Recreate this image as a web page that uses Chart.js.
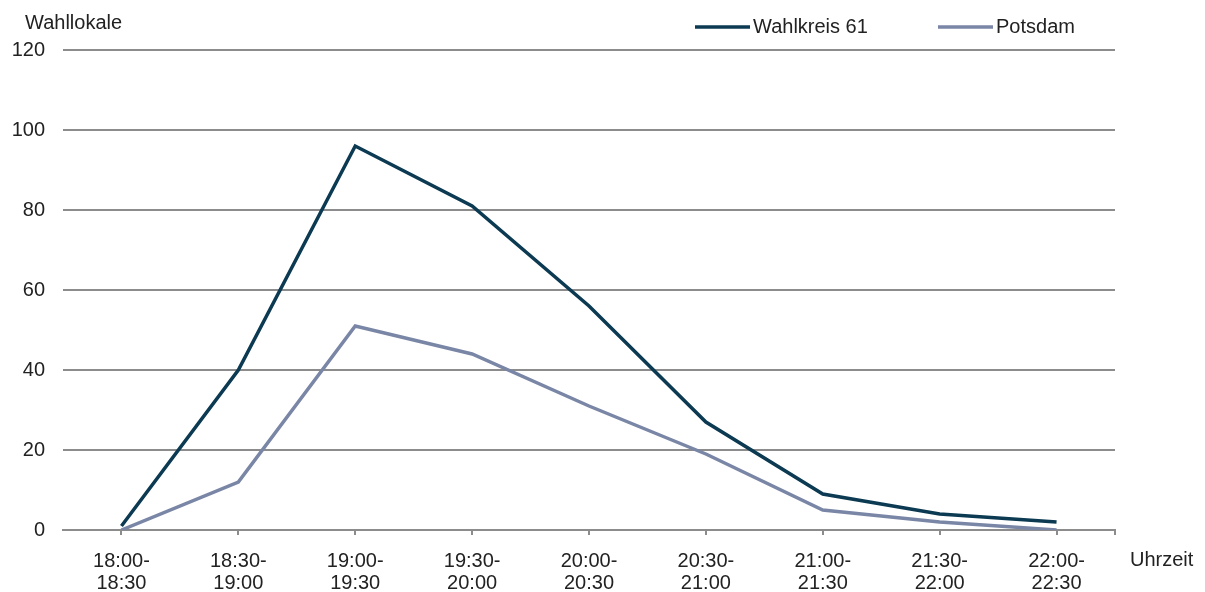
<!DOCTYPE html>
<html>
<head>
<meta charset="utf-8">
<script src="https://cdn.jsdelivr.net/npm/chart.js@4/dist/chart.umd.min.js"></script>
<style>
  html, body { margin: 0; padding: 0; background: #fff; }
  #wrap { width: 1205px; height: 592px; }
</style>
</head>
<body>
<div id="wrap"><canvas id="wahlChart" width="1205" height="592"></canvas></div>
<script>
// Zeitfenster (halbe Stunden) und gemeldete Wahllokale
const zeitraeume = [
  ['18:00-', '18:30'], ['18:30-', '19:00'], ['19:00-', '19:30'],
  ['19:30-', '20:00'], ['20:00-', '20:30'], ['20:30-', '21:00'],
  ['21:00-', '21:30'], ['21:30-', '22:00'], ['22:00-', '22:30']
];
const wahlkreis61 = [1, 40, 96, 81, 56, 27, 9, 4, 2];
const potsdam = [0, 12, 51, 44, 31, 19, 5, 2, 0];
const yTicks = [0, 20, 40, 60, 80, 100, 120];

const schrift = 'Liberation Sans, Arial, sans-serif';
const textFarbe = '#222';
const gitterFarbe = '#8c8c8c';
const farben = ['#0b3a52', '#7a86a6'];

// Achsentitel, Legende oben rechts und End-Tick der x-Achse
const achsenTexte = {
  id: 'achsenTexte',
  afterDraw(chart) {
    const ctx = chart.ctx;
    const area = chart.chartArea;
    ctx.save();
    ctx.font = '20px ' + schrift;
    ctx.fillStyle = textFarbe;
    ctx.textBaseline = 'middle';
    ctx.textAlign = 'left';
    ctx.fillText('Wahllokale', 25, 23);
    ctx.fillText('Uhrzeit', area.right + 15, 560);

    // Legende
    const legX = [695, 938];
    chart.data.datasets.forEach((ds, i) => {
      const x = legX[i];
      ctx.strokeStyle = ds.borderColor;
      ctx.lineWidth = 3.5;
      ctx.beginPath();
      ctx.moveTo(x, 27);
      ctx.lineTo(x + 55, 27);
      ctx.stroke();
      ctx.fillStyle = textFarbe;
      ctx.fillText(ds.label, x + 58, 27);
    });

    ctx.strokeStyle = gitterFarbe;
    ctx.lineWidth = 2;
    ctx.beginPath();
    ctx.moveTo(area.right, area.bottom);
    ctx.lineTo(area.right, area.bottom + 5);
    ctx.stroke();
    ctx.restore();
  }
};

const ctx = document.getElementById('wahlChart').getContext('2d');
new Chart(ctx, {
  type: 'line',
  data: {
    labels: zeitraeume,
    datasets: [
      {
        label: 'Wahlkreis 61',
        data: wahlkreis61,
        borderColor: farben[0],
        borderWidth: 3.5,
        pointRadius: 0,
        tension: 0
      },
      {
        label: 'Potsdam',
        data: potsdam,
        borderColor: farben[1],
        borderWidth: 3.5,
        pointRadius: 0,
        tension: 0
      }
    ]
  },
  options: {
    responsive: false,
    animation: false,
    layout: { padding: { top: 50, right: 90, left: 0, bottom: 0 } },
    plugins: {
      legend: { display: false },
      tooltip: { enabled: false }
    },
    scales: {
      x: {
        offset: true,
        afterFit(scale) { scale.height = 62; },
        grid: {
          drawOnChartArea: false,
          drawTicks: true,
          tickLength: 5,
          color: gitterFarbe,
          lineWidth: 2
        },
        border: { display: true, color: gitterFarbe, width: 2 },
        ticks: {
          color: textFarbe,
          maxRotation: 0,
          padding: 15,
          font: { family: schrift, size: 20, lineHeight: 1.1 }
        }
      },
      y: {
        min: 0,
        max: 120,
        afterFit(scale) { scale.width = 63; },
        afterBuildTicks(scale) { scale.ticks = yTicks.map(v => ({ value: v })); },
        grid: { color: gitterFarbe, lineWidth: 2, drawTicks: false },
        border: { display: false },
        ticks: {
          color: textFarbe,
          padding: 18,
          font: { family: schrift, size: 20 }
        }
      }
    }
  },
  plugins: [achsenTexte]
});
</script>
</body>
</html>
